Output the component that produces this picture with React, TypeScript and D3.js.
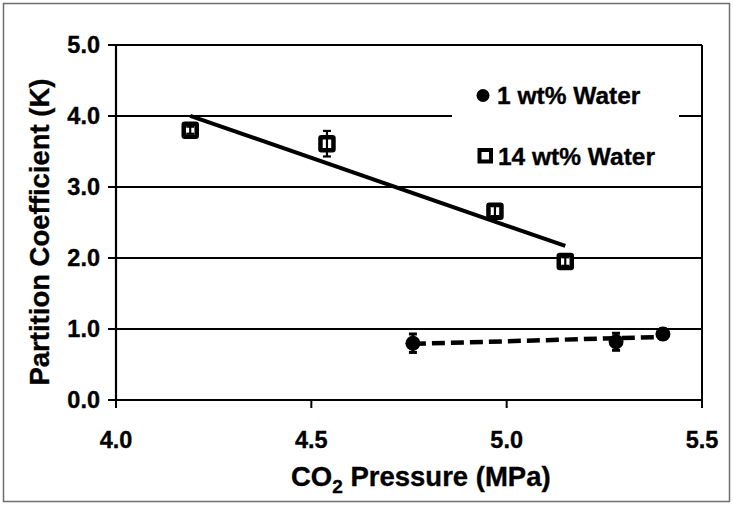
import React from "react";
import * as d3 from "d3";

const xTicks = [4.0, 4.5, 5.0, 5.5];
const yTicks = [0, 1, 2, 3, 4, 5];

const pressure14 = [4.19, 4.54, 4.97, 5.15];
const k14 = [3.8, 3.61, 2.66, 1.95];
const err14 = [0.05, 0.18, 0.07, 0.06];

const pressure1 = [4.76, 5.28, 5.4];
const k1 = [0.8, 0.82, 0.93];
const err1 = [0.13, 0.12, 0.07];

const legendLabels = ["1 wt% Water", "14 wt% Water"];

function fit(xs: number[], ys: number[]) {
  const mx = d3.mean(xs)!;
  const my = d3.mean(ys)!;
  let sxy = 0, sxx = 0;
  xs.forEach((x, i) => {
    sxy += (x - mx) * (ys[i] - my);
    sxx += (x - mx) * (x - mx);
  });
  const b = sxy / sxx;
  const a = my - b * mx;
  const x0 = d3.min(xs)!, x1 = d3.max(xs)!;
  return [
    [x0, a + b * x0],
    [x1, a + b * x1],
  ] as [number, number][];
}

const FONT = "'Liberation Sans', Arial, sans-serif";
const SY = 0.98;

export default function App() {
  const x = d3.scaleLinear().domain([4, 5.5]).range([116, 702]);
  const y = d3.scaleLinear().domain([0, 5]).range([400, 45]);
  const line = d3
    .line<[number, number]>()
    .x((d) => x(d[0]))
    .y((d) => y(d[1]));
  const fit14 = fit(pressure14, k14);
  const fit1 = fit(pressure1, k1);

  return (
    <svg
      width={733}
      height={505}
      style={{ position: "absolute", left: 0, top: 0, display: "block", background: "#fff" }}
      fontFamily={FONT}
      fontWeight="bold"
    >
      <rect x={3.5} y={3.5} width={726} height={498} fill="#fff" stroke="#6e6e6e" strokeWidth={1.5} />

      {/* gridlines and y ticks */}
      {yTicks.map((t) => (
        <line key={"g" + t} x1={108} x2={702} y1={y(t)} y2={y(t)} stroke="#000" strokeWidth={2} />
      ))}
      {/* right border */}
      <line x1={702} x2={702} y1={y(5)} y2={y(0)} stroke="#000" strokeWidth={2} />
      {/* y axis */}
      <line x1={116} x2={116} y1={y(5) - 1} y2={y(0)} stroke="#000" strokeWidth={2.2} />
      {/* x axis */}
      <line x1={116} x2={702} y1={y(0)} y2={y(0)} stroke="#000" strokeWidth={2.2} />
      {xTicks.map((t) => (
        <line key={"xt" + t} x1={x(t)} x2={x(t)} y1={y(0)} y2={y(0) + 8} stroke="#000" strokeWidth={2} />
      ))}

      <g stroke="#000" strokeWidth={0.35}>
        {/* tick labels */}
        {yTicks.map((t) => (
          <text
            key={"yl" + t}
            transform={`translate(100,${y(t) + 8}) scale(1,${SY})`}
            textAnchor="end"
            fontSize={23.5}
          >
            {t.toFixed(1)}
          </text>
        ))}
        {xTicks.map((t) => (
          <text
            key={"xl" + t}
            transform={`translate(${x(t)},${448}) scale(1,${SY})`}
            textAnchor="middle"
            fontSize={23.5}
          >
            {t.toFixed(1)}
          </text>
        ))}

        {/* axis titles */}
        <text transform={`translate(291,486) scale(1,${SY})`} fontSize={27.5}>
          CO
          <tspan fontSize={19} dy={7}>2</tspan>
          <tspan dy={-7}> Pressure (MPa)</tspan>
        </text>
        <text
          transform={`translate(49,232) rotate(-90)`}
          textAnchor="middle"
          fontSize={27.5}
        >
          Partition Coefficient (K)
        </text>
      </g>

      {/* legend background */}
      <rect x={452} y={72} width={227} height={105} fill="#fff" />

      {/* trend lines */}
      <path d={line(fit14)!} fill="none" stroke="#000" strokeWidth={4} />
      <path d={line(fit1)!} fill="none" stroke="#000" strokeWidth={4.5} strokeDasharray="13,6" />

      {/* 14 wt% markers */}
      {pressure14.map((p, i) => (
        <rect
          key={"s" + i}
          x={x(p) - 6.5}
          y={y(k14[i]) - 6.5}
          width={13}
          height={13}
          rx={1}
          fill="#fff"
          stroke="#000"
          strokeWidth={4.5}
        />
      ))}
      {pressure14.map((p, i) => (
        <g key={"e14" + i} stroke="#000" strokeWidth={2.2}>
          <line x1={x(p)} x2={x(p)} y1={y(k14[i] + err14[i])} y2={y(k14[i] - err14[i])} />
          <line x1={x(p) - 4} x2={x(p) + 4} y1={y(k14[i] + err14[i])} y2={y(k14[i] + err14[i])} />
          <line x1={x(p) - 4} x2={x(p) + 4} y1={y(k14[i] - err14[i])} y2={y(k14[i] - err14[i])} />
        </g>
      ))}

      {/* 1 wt% markers */}
      {pressure1.map((p, i) => (
        <g key={"e1" + i} stroke="#000" strokeWidth={3}>
          <line x1={x(p)} x2={x(p)} y1={y(k1[i] + err1[i])} y2={y(k1[i] - err1[i])} />
          <line x1={x(p) - 4} x2={x(p) + 4} y1={y(k1[i] + err1[i])} y2={y(k1[i] + err1[i])} />
          <line x1={x(p) - 4} x2={x(p) + 4} y1={y(k1[i] - err1[i])} y2={y(k1[i] - err1[i])} />
        </g>
      ))}
      {pressure1.map((p, i) => (
        <circle key={"c" + i} cx={x(p)} cy={y(k1[i])} r={7.5} fill="#000" />
      ))}

      {/* legend */}
      <circle cx={483} cy={95.5} r={6.5} fill="#000" />
      <rect x={479.5} y={150} width={11.5} height={11.5} fill="#fff" stroke="#000" strokeWidth={4} />
      <g stroke="#000" strokeWidth={0.35}>
        <text transform={`translate(497,104) scale(1,${SY})`} fontSize={24.5}>
          {legendLabels[0]}
        </text>
        <text transform={`translate(498,165) scale(1,${SY})`} fontSize={24.5}>
          {legendLabels[1]}
        </text>
      </g>
    </svg>
  );
}
